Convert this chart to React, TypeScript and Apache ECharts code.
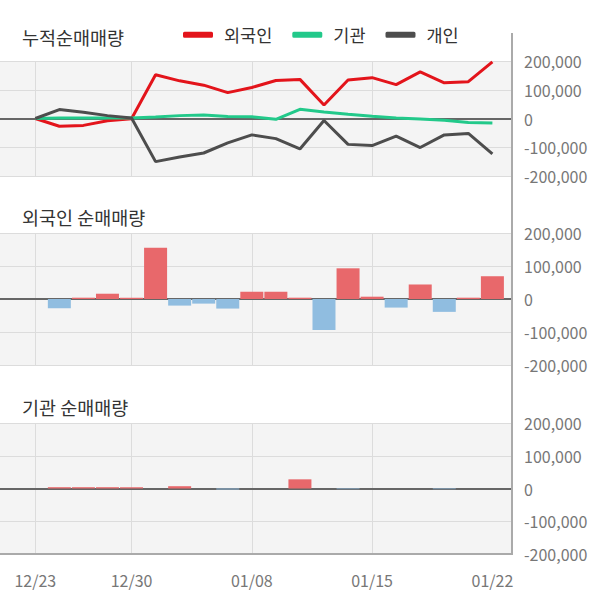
import React, { useEffect, useRef } from "react";
import * as echarts from "echarts";

const dates = ["12/23","12/24","12/26","12/27","12/30","01/02","01/03","01/06","01/07","01/08","01/09","01/10","01/13","01/14","01/15","01/16","01/17","01/20","01/21","01/22"];
const seriesNames = ["외국인", "기관", "개인"];
const foreignCum = [0, -27000, -24000, -8000, -1000, 152000, 131000, 116000, 90000, 108000, 132000, 136000, 47000, 134000, 142000, 118000, 162000, 124000, 128000, 197000];
const instCum = [0, 2000, 2000, 2000, 2000, 5000, 10000, 12000, 7000, 6000, -3000, 32000, 23000, 15000, 8000, 2000, -2000, -6000, -14000, -16000];
const indivCum = [0, 31000, 22000, 10000, 2000, -150000, -134000, -120000, -85000, -57000, -70000, -106000, -7000, -90000, -94000, -61000, -101000, -57000, -52000, -123000];
const foreignNet = [0, -28000, 4000, 16000, 4000, 155000, -20000, -14000, -29000, 22000, 22000, 4000, -94000, 93000, 7000, -26000, 44000, -39000, 4000, 69000];
const instNet = [0, 4000, 4000, 4000, 4000, 0, 7000, 0, -3000, 0, 0, 28000, 0, -2000, 0, 0, 0, -2000, 0, 0];
const panelTitles = ["누적순매매량", "외국인 순매매량", "기관 순매매량"];
const gridTickIdx = [0, 4, 9, 14];
const labelIdx = [0, 4, 9, 14, 19];
const yTicks = { min: -200000, max: 200000, interval: 100000 };

const FONT = "'Noto Sans CJK KR', 'Noto Sans', sans-serif";
const RIGHT_EDGE = 512;
const X_MIN = -1.467;
const X_MAX = 19.815;
const grids = [
  { top: 61, height: 115 },
  { top: 233, height: 132 },
  { top: 423, height: 131 },
];
const RED = "#e3141b";
const GREEN = "#22c98a";
const GREY = "#4d4d4d";
const BAR_RED = "#e8686b";
const BAR_BLUE = "#90bde0";

const pairs = (arr: number[]) => arr.map((v, i) => [i, v]);

export default function App() {
  const ref = useRef<HTMLDivElement>(null);
  useEffect(() => {
    if (!ref.current) return;
    const chart = echarts.init(ref.current, null, { renderer: "svg" });

    const zeroAxis = (gi: number) => ({
      type: "value",
      gridIndex: gi,
      min: X_MIN,
      max: X_MAX,
      position: "top",
      axisLine: { show: true, onZero: true, lineStyle: { color: "#666", width: 2 } },
      axisTick: { show: false, customValues: gridTickIdx },
      axisLabel: { show: false },
      splitLine: { show: true, lineStyle: { color: "#dcdcdc", width: 1 } },
    });

    const yAxis = (gi: number) => ({
      type: "value",
      gridIndex: gi,
      position: "right",
      min: yTicks.min,
      max: yTicks.max,
      interval: yTicks.interval,
      axisLine: { show: false },
      axisTick: { show: false },
      axisLabel: {
        color: "#777",
        fontSize: 16,
        fontFamily: FONT,
        margin: 12,
        formatter: (v: number) => v.toLocaleString("en-US"),
      },
      splitLine: { show: true, lineStyle: { color: "#dcdcdc", width: 1 } },
    });

    const barColor = (p: any) => (p.value[1] >= 0 ? BAR_RED : BAR_BLUE);

    const option: any = {
      animation: false,
      textStyle: { fontFamily: FONT },
      title: panelTitles.map((t, i) => ({
        text: t,
        left: 22,
        top: [28, 208, 398][i],
        padding: 0,
        textStyle: { fontSize: 18.5, fontWeight: "normal", color: "#333", fontFamily: FONT },
      })),
      legend: {
        data: seriesNames,
        left: 183,
        top: 26,
        padding: 0,
        icon: "roundRect",
        itemWidth: 30,
        itemHeight: 6,
        itemGap: 20,
        textStyle: { fontSize: 17.5, color: "#333", fontFamily: FONT, padding: [0, 0, 0, 6] },
      },
      grid: grids.map((g) => ({
        left: 0,
        right: 600 - RIGHT_EDGE,
        top: g.top,
        height: g.height,
        show: true,
        backgroundColor: "#f4f4f4",
        borderWidth: 0,
      })),
      xAxis: [
        zeroAxis(0),
        zeroAxis(1),
        zeroAxis(2),
        {
          type: "value",
          gridIndex: 2,
          min: X_MIN,
          max: X_MAX,
          position: "bottom",
          axisLine: { show: true, onZero: false, lineStyle: { color: "#aaa", width: 2 } },
          axisTick: { show: false },
          axisLabel: {
            show: true,
            customValues: labelIdx,
            formatter: (v: number) => dates[Math.round(v)] ?? "",
            color: "#777",
            fontSize: 16,
            fontFamily: FONT,
            margin: 18,
          },
          splitLine: { show: false },
        },
      ],
      yAxis: [yAxis(0), yAxis(1), yAxis(2)],
      series: [
        {
          name: seriesNames[0], type: "line", xAxisIndex: 0, yAxisIndex: 0,
          data: pairs(foreignCum), symbol: "none", color: RED,
          lineStyle: { width: 3, color: RED },
        },
        {
          name: seriesNames[1], type: "line", xAxisIndex: 0, yAxisIndex: 0,
          data: pairs(instCum), symbol: "none", color: GREEN,
          lineStyle: { width: 3, color: GREEN },
        },
        {
          name: seriesNames[2], type: "line", xAxisIndex: 0, yAxisIndex: 0,
          data: pairs(indivCum), symbol: "none", color: GREY,
          lineStyle: { width: 3, color: GREY },
        },
        {
          type: "bar", xAxisIndex: 1, yAxisIndex: 1, barWidth: 23,
          data: pairs(foreignNet), itemStyle: { color: barColor },
        },
        {
          type: "bar", xAxisIndex: 2, yAxisIndex: 2, barWidth: 23,
          data: pairs(instNet), itemStyle: { color: barColor },
        },
      ],
      graphic: [
        {
          type: "line",
          shape: { x1: RIGHT_EDGE, y1: 33, x2: RIGHT_EDGE, y2: grids[2].top + grids[2].height + 1 },
          style: { stroke: "#aaa", lineWidth: 2 },
          z: 10,
        },
      ],
    };
    chart.setOption(option);
    return () => chart.dispose();
  }, []);
  return (
    <div
      ref={ref}
      style={{ position: "absolute", left: 0, top: 0, width: 600, height: 604 }}
    />
  );
}
